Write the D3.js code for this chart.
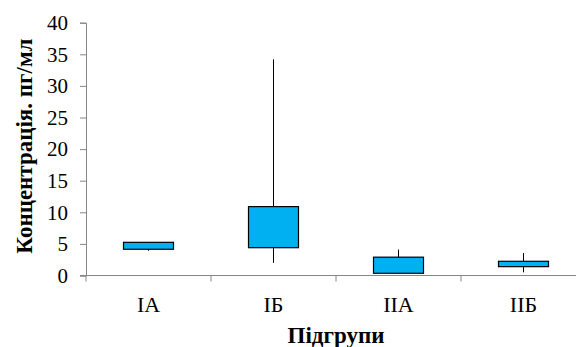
<!DOCTYPE html>
<html>
<head>
<meta charset="utf-8">
<script src="https://cdn.jsdelivr.net/npm/d3@7"></script>
<style>
  body { margin: 0; background: #fff; }
</style>
</head>
<body>
<svg id="chart" width="576" height="347"></svg>
<script>
// subgroups and box values (pg/ml)
const groups = ["IА", "IБ", "IIА", "IIБ"];
const whiskerMin = [3.9, 2.0, 0.3, 0.5];
const boxLow = [4.15, 4.4, 0.35, 1.4];
const boxHigh = [5.25, 10.9, 2.9, 2.25];
const whiskerMax = [5.3, 34.2, 4.1, 3.55];
const yTicks = [0, 5, 10, 15, 20, 25, 30, 35, 40];

const serif = "'Liberation Serif', 'DejaVu Serif', serif";
const svg = d3.select("#chart");
const plotLeft = 86, plotTop = 22.7, plotBottom = 275.5, plotRight = 586;

// scales
const x = d3.scaleBand().domain(groups).range([plotLeft, plotRight]);
const y = d3.scaleLinear().domain([0, 40]).range([plotBottom, plotTop]);

// y axis
const yAxis = d3.axisLeft(y).tickValues(yTicks).tickSize(6).tickPadding(12);
const gy = svg.append("g").attr("transform", `translate(${plotLeft},0)`).call(yAxis)
  .attr("font-family", null);
gy.select(".domain").attr("stroke", "#868686");
gy.selectAll(".tick line").attr("stroke", "#868686");
gy.selectAll(".tick text").style("font-family", serif).style("font-size", "21px").attr("fill", "#000");

// x axis: ticks at category boundaries
const gx = svg.append("g").attr("transform", `translate(0,${plotBottom})`);
gx.append("line").attr("x1", plotLeft - 6).attr("x2", plotRight).attr("stroke", "#868686");
gx.selectAll(".bt")
  .data(groups)
  .join("line")
  .attr("class", "bt")
  .attr("x1", d => x(d)).attr("x2", d => x(d))
  .attr("y1", 0).attr("y2", 6)
  .attr("stroke", "#868686");
gx.selectAll(".lbl")
  .data(groups)
  .join("text")
  .attr("class", "lbl")
  .attr("x", d => x(d) + x.bandwidth() / 2)
  .attr("y", 36)
  .attr("text-anchor", "middle")
  .style("font-family", serif)
  .style("font-size", "22px")
  .text(d => d);

// whiskers
const boxW = x.bandwidth() * 0.4;
const cx = i => x(groups[i]) + x.bandwidth() / 2;
svg.selectAll(".whisk")
  .data(groups)
  .join("line")
  .attr("class", "whisk")
  .attr("x1", (d, i) => cx(i)).attr("x2", (d, i) => cx(i))
  .attr("y1", (d, i) => y(whiskerMin[i]))
  .attr("y2", (d, i) => y(whiskerMax[i]))
  .attr("stroke", "#000").attr("stroke-width", 1);

// boxes
svg.selectAll(".box")
  .data(groups)
  .join("rect")
  .attr("class", "box")
  .attr("x", (d, i) => cx(i) - boxW / 2)
  .attr("width", boxW)
  .attr("y", (d, i) => y(boxHigh[i]))
  .attr("height", (d, i) => y(boxLow[i]) - y(boxHigh[i]))
  .attr("fill", "#00B0F0")
  .attr("stroke", "#000")
  .attr("stroke-width", 1.2);

// axis titles
svg.append("text")
  .attr("x", (plotLeft + plotRight) / 2)
  .attr("y", 343)
  .attr("text-anchor", "middle")
  .style("font-family", serif)
  .style("font-size", "23px")
  .style("font-weight", "bold")
  .text("Підгрупи");

svg.append("text")
  .attr("transform", `translate(32,${(plotTop + plotBottom) / 2 - 3}) rotate(-90)`)
  .attr("text-anchor", "middle")
  .style("font-family", serif)
  .style("font-size", "23px")
  .style("font-weight", "bold")
  .text("Концентрація. пг/мл");
</script>
</body>
</html>
